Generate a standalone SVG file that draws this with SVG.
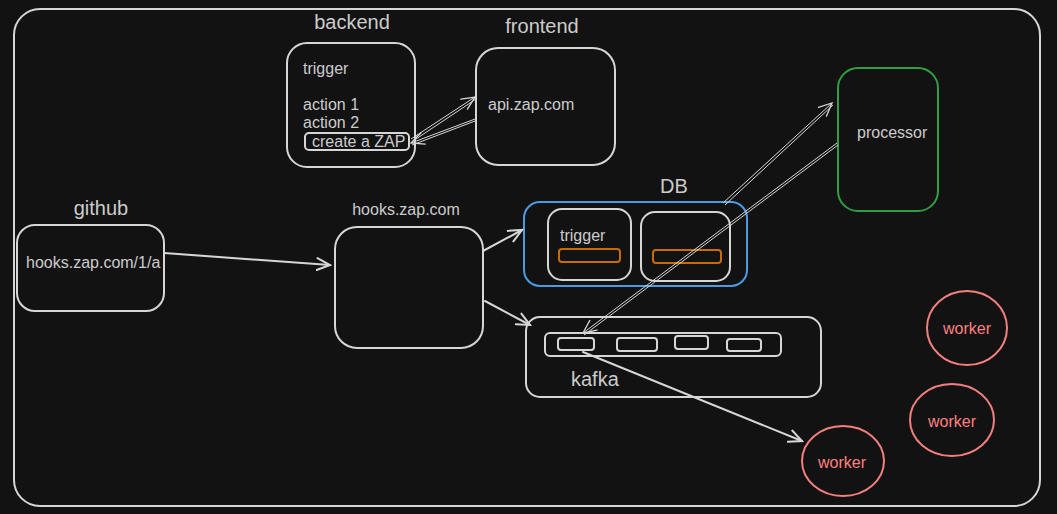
<svg xmlns="http://www.w3.org/2000/svg" width="1057" height="514" viewBox="0 0 1057 514">
<defs>
<style>
.bg{fill:#121212}
.box{fill:none;stroke:#d6d6d6;stroke-width:2;stroke-linejoin:round}
.ora{fill:none;stroke:#c86c00;stroke-width:2}
.blue{fill:none;stroke:#4a9be6;stroke-width:2}
.green{fill:none;stroke:#2f9e44;stroke-width:2}
.red{fill:none;stroke:#f57f7f;stroke-width:2}
.t{font-family:"Liberation Sans",Arial,sans-serif;fill:#cccccc}
.s14{font-size:16px}
.s18{font-size:20px}
.w{fill:#ff8080;font-size:16px;font-family:"Liberation Sans",Arial,sans-serif;text-anchor:middle}
.c{stroke:#d6d6d6;stroke-width:2;fill:none;stroke-linecap:round}
.c2{stroke:#d6d6d6;stroke-width:1;fill:none}
</style>
<marker id="ah" viewBox="-14 -8 16 16" markerWidth="16" markerHeight="16" refX="0" refY="0" orient="auto" markerUnits="userSpaceOnUse">
<path d="M-13,-6 L0,0 L-13,6" fill="none" stroke="#d6d6d6" stroke-width="2" stroke-linecap="round"/>
</marker>
<marker id="ah2" viewBox="-14 -8 16 16" markerWidth="16" markerHeight="16" refX="0" refY="0" orient="auto" markerUnits="userSpaceOnUse">
<path d="M-13,-6 L0,0 L-13,6" fill="none" stroke="#d6d6d6" stroke-width="1.3" stroke-linecap="round"/>
</marker>
</defs>
<rect class="bg" x="0" y="0" width="1057" height="514"/>
<rect class="box" x="14" y="9" width="1026" height="497" rx="26"/>

<g id="backend">
<text class="t s18" x="352" y="29" text-anchor="middle">backend</text>
<rect class="box" x="287" y="43" width="128" height="124" rx="20"/>
<text class="t s14" x="303" y="74">trigger</text>
<text class="t s14" x="303" y="110">action 1</text>
<text class="t s14" x="303" y="128">action 2</text>
<rect class="box" x="305" y="133" width="104" height="17" rx="4"/>
<text class="t s14" x="312" y="147">create a ZAP</text>
</g>

<g id="frontend">
<text class="t s18" x="542" y="33" text-anchor="middle">frontend</text>
<rect class="box" x="476" y="48" width="139" height="117" rx="22"/>
<text class="t s14" x="488" y="110">api.zap.com</text>
</g>

<g id="github">
<text class="t s18" x="101" y="215" text-anchor="middle">github</text>
<rect class="box" x="17" y="225" width="147" height="86" rx="18"/>
<text class="t s14" x="26" y="268">hooks.zap.com/1/a</text>
</g>

<g id="hooks">
<text class="t s14" x="406" y="215" text-anchor="middle">hooks.zap.com</text>
<rect class="box" x="335" y="227" width="148" height="121" rx="22"/>
</g>

<g id="db">
<text class="t s18" x="674" y="193" text-anchor="middle">DB</text>
<rect class="blue" x="524" y="202" width="223" height="84" rx="16"/>
<rect class="box" x="548" y="209" width="83" height="71" rx="14"/>
<text class="t s14" x="560" y="241">trigger</text>
<rect class="ora" x="559" y="249" width="61" height="13" rx="3"/>
<rect class="box" x="641" y="212" width="89" height="69" rx="14"/>
<rect class="ora" x="653" y="250" width="68" height="13" rx="3"/>
</g>

<g id="processor">
<rect class="green" x="838" y="68" width="100" height="143" rx="20"/>
<text class="t s14" x="857" y="138">processor</text>
</g>

<g id="kafka">
<rect class="box" x="526" y="317" width="295" height="80" rx="14"/>
<rect class="box" x="545" y="333" width="236" height="23" rx="5"/>
<rect class="box" x="558" y="338" width="36" height="12" rx="3"/>
<rect class="box" x="617" y="338" width="40" height="13" rx="3"/>
<rect class="box" x="675" y="336" width="33" height="13" rx="3"/>
<rect class="box" x="727" y="339" width="34" height="12" rx="3"/>
<text class="t s18" x="571" y="386">kafka</text>
</g>

<g id="worker1">
<ellipse class="red" cx="967" cy="328" rx="40" ry="37"/>
<text class="w" x="967" y="334">worker</text>
</g>
<g id="worker2">
<ellipse class="red" cx="952" cy="420" rx="42" ry="36"/>
<text class="w" x="952" y="427">worker</text>
</g>
<g id="worker3">
<ellipse class="red" cx="843" cy="461" rx="41" ry="35"/>
<text class="w" x="842" y="468">worker</text>
</g>

<g id="connectors">
<line class="c2" x1="411" y1="139" x2="475" y2="97" marker-end="url(#ah2)"/>
<line class="c2" x1="413" y1="141" x2="476" y2="99"/>
<line class="c2" x1="475" y1="119" x2="411" y2="143" marker-end="url(#ah2)"/>
<line class="c2" x1="475" y1="121" x2="412" y2="145"/>
<line class="c" x1="164" y1="253" x2="330" y2="265" marker-end="url(#ah)"/>
<line class="c" x1="483" y1="251" x2="522" y2="230" marker-end="url(#ah)"/>
<line class="c" x1="485" y1="301" x2="530" y2="325" marker-end="url(#ah)"/>
<line class="c2" x1="723" y1="203" x2="832" y2="103" marker-end="url(#ah2)"/>
<line class="c2" x1="725" y1="205" x2="833" y2="105"/>
<line class="c2" x1="837" y1="143" x2="583" y2="333" marker-end="url(#ah2)"/>
<line class="c2" x1="838" y1="145" x2="584" y2="335"/>
<line class="c" x1="583" y1="352" x2="802" y2="441" marker-end="url(#ah)"/>
</g>
</svg>
